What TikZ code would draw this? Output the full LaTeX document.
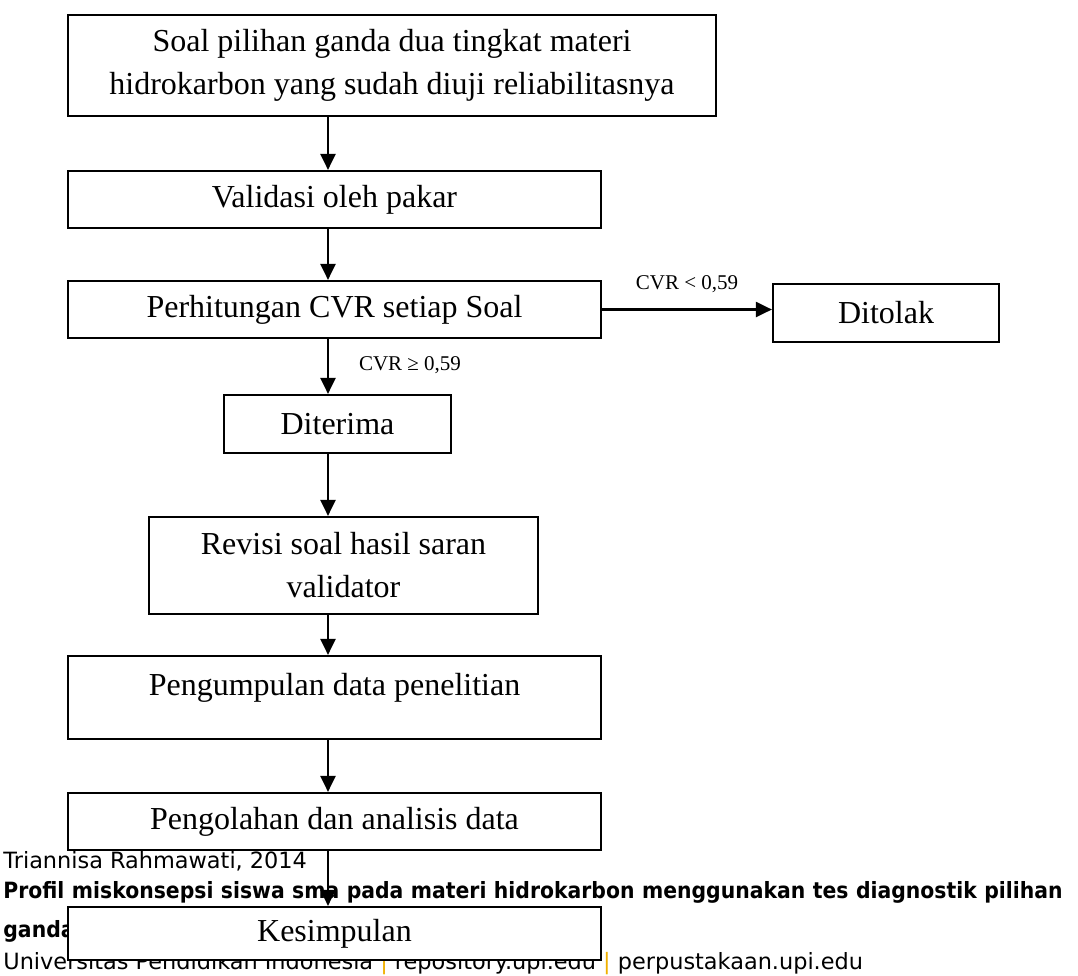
\documentclass[tikz,border=0pt]{standalone}
\usepackage{fontspec}
\usepackage{graphicx}
\setmainfont{Liberation Serif}
\newfontfamily\footfont{DejaVu Sans}
\usetikzlibrary{arrows.meta}
\definecolor{barc}{RGB}{240,176,0}
\begin{document}
\begin{tikzpicture}[x=0.5pt,y=-0.5pt,
  box/.style={draw, line width=1.1pt, fill=white, inner sep=0pt,
    font=\fontsize{16pt}{21.5pt}\selectfont, align=center},
  arr/.style={line width=1.1pt, -{Triangle[length=8pt,width=7.5pt]}},
  lbl/.style={font=\fontsize{10.5pt}{12pt}\selectfont, inner sep=0pt},
  foot/.style={font=\footfont\fontsize{11.2pt}{13pt}\selectfont, inner sep=0pt, anchor=base west}]
\useasboundingbox (0,0) rectangle (1078,976);
% footer text (behind the chart)
\node[foot] (f1) at (3,868) {Triannisa Rahmawati, 2014};
\node[foot] (f2) at (3,898) {\scalebox{0.91}[1]{\bfseries\makebox[582pt][s]{Profil miskonsepsi siswa sma pada materi hidrokarbon menggunakan tes diagnostik pilihan}}};
\node[foot] (f3) at (3,937) {\scalebox{0.91}[1]{\bfseries ganda dua tingkat}};
\node[foot] (f4) at (3,969) {Universitas Pendidikan Indonesia {\color{barc}|} repository.upi.edu {\color{barc}|} perpustakaan.upi.edu};
% boxes
\node[box, minimum width=324pt, minimum height=50.5pt] (b1) at (392,65.5)
  {Soal pilihan ganda dua tingkat materi\\hidrokarbon yang sudah diuji reliabilitasnya};
\node[box, minimum width=266.5pt, minimum height=28.5pt] (b2) at (334.5,199.5) {Validasi oleh pakar};
\node[box, minimum width=266.5pt, minimum height=28.5pt] (b3) at (334.5,309.5) {Perhitungan CVR setiap Soal};
\node[box, minimum width=113pt, minimum height=29pt] (dit) at (886,313) {Ditolak};
\node[box, minimum width=113.5pt, minimum height=29pt] (dite) at (337.5,424) {Diterima};
\node[box, minimum width=194.5pt, minimum height=48.5pt] (rev) at (343.5,565.5) {Revisi soal hasil saran\\validator};
\node[box, minimum width=266.5pt, minimum height=41.5pt] (kum) at (334.5,697.5) {};
\node[font=\fontsize{16pt}{21.5pt}\selectfont, anchor=base, inner sep=0pt] (kumt) at (334.5,695) {Pengumpulan data penelitian};
\node[box, minimum width=266.5pt, minimum height=28.5pt] (pol) at (334.5,821.5) {Pengolahan dan analisis data};
\node[box, minimum width=266.5pt, minimum height=26.5pt] (kes) at (334.5,933.5) {Kesimpulan};
% labels
\node[lbl] (l1) at (687,284.5) {CVR < 0,59};
\node[lbl] (l2) at (410,365) {CVR ≥ 0,59};
% connectors
\coordinate (sp) at (328,0);
\draw[arr] (b1.south -| sp) -- (b2.north -| sp);
\draw[arr] (b2.south -| sp) -- (b3.north -| sp);
\draw[arr] (b3.south -| sp) -- (dite.north -| sp);
\draw[arr] (dite.south -| sp) -- (rev.north -| sp);
\draw[arr] (rev.south -| sp) -- (kum.north -| sp);
\draw[arr] (kum.south -| sp) -- (pol.north -| sp);
\draw[arr] (pol.south -| sp) -- (kes.north -| sp);
\draw[arr] (b3.east) -- (b3.east -| dit.west);
\end{tikzpicture}
\end{document}
